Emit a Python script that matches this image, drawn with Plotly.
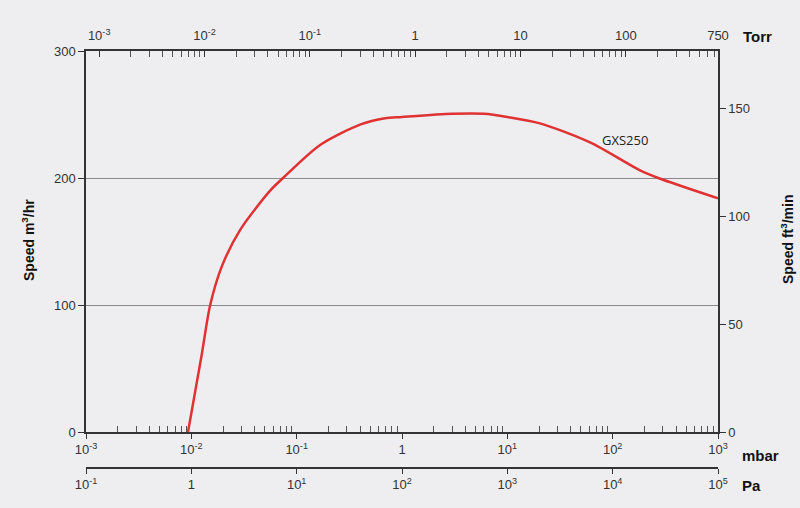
import numpy as np
import plotly.graph_objects as go

# ---- data ----
pressure_mbar = [0.0093, 0.0125, 0.0151, 0.0196, 0.029, 0.056, 0.0743, 0.167, 0.4, 0.69, 1.0, 3.0, 6.0, 10.0, 20.4, 61, 182, 271, 1000]
speed_m3h = [0, 60, 100, 131, 159, 190, 200, 226, 242, 247, 248, 250.5, 250.5, 248, 243, 228, 206, 200, 184]
series_name = "GXS250"

mbar_ticks = [1e-3, 1e-2, 1e-1, 1, 10, 100, 1000]
mbar_labels = ["10<sup>-3</sup>", "10<sup>-2</sup>", "10<sup>-1</sup>", "1", "10<sup>1</sup>", "10<sup>2</sup>", "10<sup>3</sup>"]
pa_ticks = [1e-1, 1, 10, 100, 1e3, 1e4, 1e5]
pa_labels = ["10<sup>-1</sup>", "1", "10<sup>1</sup>", "10<sup>2</sup>", "10<sup>3</sup>", "10<sup>4</sup>", "10<sup>5</sup>"]
torr_ticks = [1e-3, 1e-2, 1e-1, 1, 10, 100, 750]
torr_labels = ["10<sup>-3</sup>", "10<sup>-2</sup>", "10<sup>-1</sup>", "1", "10", "100", "750"]
m3h_ticks = [0, 100, 200, 300]
cfm_ticks = [0, 50, 100, 150]
M3H_TO_CFM = 0.5886

mbar_minor = [m * 10.0**d for d in range(-3, 3) for m in range(2, 10)]
torr_minor = [m * 10.0**d for d in range(-3, 3) for m in range(2, 10) if m * 10.0**d < 750]

FONT = "Liberation Sans, Arial, sans-serif"
AX = "#333333"
BG = "#eeeef1"

fig = go.Figure()
fig.add_trace(go.Scatter(x=pressure_mbar, y=speed_m3h, mode="lines",
                         line=dict(color="#e03232", width=2.5, shape="spline", smoothing=0.8),
                         showlegend=False, hoverinfo="skip"))
fig.add_trace(go.Scatter(x=[1], y=[None], xaxis="x2", showlegend=False, hoverinfo="skip"))
fig.add_trace(go.Scatter(x=[1], y=[None], xaxis="x3", showlegend=False, hoverinfo="skip"))
fig.add_trace(go.Scatter(x=[1], y=[None], yaxis="y2", showlegend=False, hoverinfo="skip"))

tickfont = dict(family=FONT, size=13, color=AX)

fig.update_layout(
    width=800, height=508,
    paper_bgcolor=BG, plot_bgcolor=BG,
    margin=dict(l=86, r=82, t=51, b=40),
    font=dict(family=FONT, size=13, color=AX),
    showlegend=False,
    xaxis=dict(type="log", range=[-3, 3], tickmode="array", tickvals=mbar_ticks, ticktext=mbar_labels,
               ticks="outside", ticklen=5, tickcolor=AX, tickwidth=1,
               showline=True, linecolor=AX, linewidth=1.5, showgrid=False, zeroline=False,
               tickfont=tickfont, anchor="y",
               minor=dict(tickmode="array", tickvals=mbar_minor, ticks="inside", ticklen=6,
                          tickcolor="#555", tickwidth=1, showgrid=False)),
    xaxis2=dict(type="log", range=[np.log10(7.5e-4), np.log10(750)], overlaying="x", side="top", anchor="y",
                tickmode="array", tickvals=torr_ticks, ticktext=torr_labels,
                ticks="inside", ticklen=6, tickcolor=AX, tickwidth=1, ticklabelstandoff=4,
                showline=True, linecolor=AX, linewidth=1.5, showgrid=False, zeroline=False,
                tickfont=tickfont,
                minor=dict(tickmode="array", tickvals=torr_minor, ticks="inside", ticklen=6,
                           tickcolor="#555", tickwidth=1, showgrid=False)),
    xaxis3=dict(type="log", range=[-1, 5], overlaying="x", side="bottom", anchor="free", position=0,
                tickmode="array", tickvals=pa_ticks, ticktext=pa_labels,
                ticks="outside", ticklen=5, tickcolor=AX, tickwidth=1,
                showline=True, linecolor=AX, linewidth=1.5, showgrid=False, zeroline=False,
                tickfont=tickfont),
    yaxis=dict(range=[0, 300], domain=[36 / 417, 1], tickmode="array", tickvals=m3h_ticks,
               ticks="outside", ticklen=6, tickcolor=AX, showline=True, linecolor=AX, linewidth=1.5,
               showgrid=True, gridcolor="#8a8a8a", gridwidth=1, zeroline=False, tickfont=tickfont,
               anchor="x"),
    yaxis2=dict(range=[0, 300 * M3H_TO_CFM], overlaying="y", side="right", anchor="x",
                tickmode="array", tickvals=cfm_ticks, ticks="outside", ticklen=6, tickcolor=AX,
                showline=True, linecolor=AX, linewidth=1.5, showgrid=False, zeroline=False,
                tickfont=tickfont),
)

def unit(text, x, y, xanchor="left", angle=0):
    fig.add_annotation(text=text, xref="paper", yref="paper", x=x, y=y, xanchor=xanchor, yanchor="middle",
                       showarrow=False, textangle=angle,
                       font=dict(family=FONT, size=15, color="#111"))

unit("<b>Torr</b>", (741 - 86) / 632, (468 - 36) / 417)
unit("<b>mbar</b>", (740 - 86) / 632, (468 - 455) / 417)
unit("<b>Pa</b>", (740 - 86) / 632, (468 - 485) / 417)
fig.add_annotation(text="<b>Speed m<sup>3</sup>/hr</b>", xref="paper", yref="paper",
                   x=(28 - 86) / 632, y=(468 - 240) / 417, textangle=-90, showarrow=False,
                   xanchor="center", yanchor="middle",
                   font=dict(family=FONT, size=14, color="#111"))
fig.add_annotation(text="<b>Speed ft<sup>3</sup>/min</b>", xref="paper", yref="paper",
                   x=(787 - 86) / 632, y=(468 - 240) / 417, textangle=-90, showarrow=False,
                   xanchor="center", yanchor="middle",
                   font=dict(family=FONT, size=14, color="#111"))
fig.add_annotation(text=series_name, x=np.log10(131), y=230, xref="x", yref="y", showarrow=False,
                   font=dict(family="Open Sans, sans-serif", size=13, color="#222"))

fig.write_html("out.html", config={"displayModeBar": False},
               post_script="document.body.style.margin='0';document.body.style.background='%s';" % BG)
